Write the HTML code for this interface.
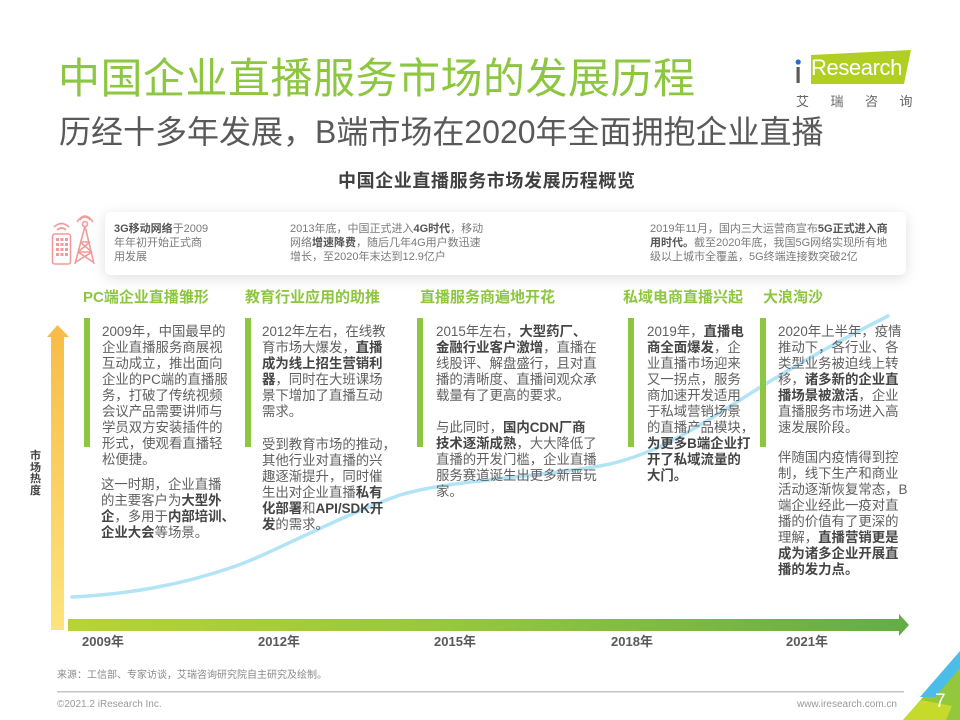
<!DOCTYPE html>
<html><head><meta charset="utf-8">
<style>
*{margin:0;padding:0;box-sizing:border-box}
body{width:960px;height:720px;background:#fff;position:relative;overflow:hidden;font-family:"Liberation Sans","Noto Sans CJK SC",sans-serif;color:#595959}
.a{position:absolute;white-space:nowrap}
.t1{left:58px;top:55px;font-size:42px;line-height:48px;color:#8dc63f;letter-spacing:0.5px}
.t2{left:59px;top:112px;font-size:32px;line-height:40px;color:#595959}
.t3{left:338px;top:170px;font-size:18px;line-height:22px;font-weight:bold;color:#404040;letter-spacing:0.6px}
.card{position:absolute;left:105px;top:212px;width:801px;height:63px;background:#fff;border-radius:6px;box-shadow:0 3px 14px rgba(0,0,0,0.13)}
.ct{position:absolute;font-size:11px;line-height:14px;color:#7a7a7a;white-space:nowrap}
.ct b{color:#555}
.hd{position:absolute;font-size:15px;line-height:18px;font-weight:bold;color:#8dc63f;white-space:nowrap}
.p{position:absolute;font-size:13.4px;line-height:16px;color:#606060;white-space:nowrap}
.p b{color:#454545}
.yr{position:absolute;font-size:13px;line-height:16px;font-weight:bold;color:#595959;white-space:nowrap;transform:translateX(-50%)}
.vl{position:absolute;left:30px;top:451px;width:13px;font-size:11px;line-height:11.5px;font-weight:bold;color:#404040;white-space:normal;word-break:break-all}
</style></head><body>

<svg width="960" height="720" style="position:absolute;left:0;top:0" xmlns="http://www.w3.org/2000/svg">
<defs>
<linearGradient id="yg" x1="0" y1="0" x2="0" y2="1"><stop offset="0" stop-color="#f8bd48"/><stop offset="1" stop-color="#fde47c"/></linearGradient>
<linearGradient id="gg" x1="0" y1="0" x2="1" y2="0"><stop offset="0" stop-color="#b7d432"/><stop offset="0.45" stop-color="#97c83b"/><stop offset="1" stop-color="#64ad46"/></linearGradient>
</defs>
<!-- logo -->
<polygon points="811,55 911,50 904,84 811,84" fill="#b1cf23"/>
<rect x="796.5" y="67" width="3.2" height="16" fill="#5a5a5a"/>
<circle cx="798.2" cy="62" r="2.6" fill="#2a6fbf"/>
<!-- curve -->
<path d="M72,597 C130,594 180,585 230,568 C270,555 330,520 400,495 C450,480 530,478 600,466 C650,457 690,432 740,400 C790,368 840,340 888,316" fill="none" stroke="#b2e4f6" stroke-width="3.5" stroke-linecap="round"/>
<!-- yellow arrow -->
<rect x="51" y="336" width="13" height="294" fill="url(#yg)"/>
<polygon points="47,337 57.5,325 69,337" fill="#f8bd48"/>
<!-- timeline -->
<rect x="68" y="619" width="832" height="12" fill="url(#gg)"/>
<polygon points="899,614 909,625 899,636" fill="#64ad46"/>
<!-- green bars -->
<rect x="84" y="318" width="6" height="129" fill="#8dc63f"/>
<rect x="245" y="318" width="6" height="129" fill="#8dc63f"/>
<rect x="417" y="318" width="6" height="129" fill="#8dc63f"/>
<rect x="628" y="318" width="6" height="129" fill="#8dc63f"/>
<rect x="760" y="318" width="6" height="129" fill="#8dc63f"/>
<!-- footer line -->
<rect x="57" y="691" width="847" height="1.5" fill="#c4c4c4"/>
<!-- corner -->
<polygon points="903,720 960,655 960,720" fill="#93c83c"/>
<polygon points="903,720 921,700 952,706 946,720" fill="#c6da2c"/>
<polygon points="920,697 960,651 960,668 935,697" fill="#4bbde8"/>
</svg>

<div class="card"></div>
<svg width="60" height="60" style="position:absolute;left:45px;top:212px" xmlns="http://www.w3.org/2000/svg" fill="none" stroke="#f29a9a" stroke-width="1.6">
<rect x="7.5" y="22" width="18" height="30" rx="2.5"/>
<g fill="#f29a9a" stroke="none">
<rect x="11" y="26" width="3" height="3"/><rect x="15.5" y="26" width="3" height="3"/><rect x="20" y="26" width="3" height="3"/>
<rect x="11" y="31" width="3" height="3"/><rect x="15.5" y="31" width="3" height="3"/><rect x="20" y="31" width="3" height="3"/>
<rect x="11" y="36" width="3" height="3"/><rect x="15.5" y="36" width="3" height="3"/><rect x="20" y="36" width="3" height="3"/>
<rect x="11" y="41" width="3" height="3"/><rect x="15.5" y="41" width="3" height="3"/><rect x="20" y="41" width="3" height="3"/>
</g>
<path d="M12,18 Q16.5,14 21,18"/><path d="M9,15 Q16.5,8 24,15"/>
<path d="M40,14 L30,52 M40,14 L49,52 M33,40 L47,40 M35,30 L45,30 M33,40 L45,30 M35,30 L47,40 M31,50 L47,40 M33,40 L48,50"/>
<circle cx="40" cy="12" r="2.5"/>
<path d="M35,8 Q40,2 45,8"/><path d="M32,10 Q40,-2 48,10"/>
</svg>

<div class="a t1">中国企业直播服务市场的发展历程</div>
<div class="a t2">历经十多年发展，B端市场在2020年全面拥抱企业直播</div>
<div class="a t3">中国企业直播服务市场发展历程概览</div>

<div class="a" style="left:811px;top:54px;font-size:22px;line-height:28px;color:#fff;letter-spacing:-0.4px">Research</div>
<div class="a" style="left:796px;top:94px;font-size:13px;line-height:16px;color:#666;letter-spacing:21.5px">艾瑞咨询</div>

<div class="ct" style="left:114px;top:222px"><b>3G移动网络</b>于2009<br>年年初开始正式商<br>用发展</div>
<div class="ct" style="left:290px;top:222px">2013年底，中国正式进入<b>4G时代</b>，移动<br>网络<b>增速降费</b>，随后几年4G用户数迅速<br>增长，至2020年末达到12.9亿户</div>
<div class="ct" style="left:650px;top:222px">2019年11月，国内三大运营商宣布<b>5G正式进入商</b><br><b>用时代。</b>截至2020年底，我国5G网络实现所有地<br>级以上城市全覆盖，5G终端连接数突破2亿</div>

<div class="hd" style="left:83px;top:289px">PC端企业直播雏形</div>
<div class="hd" style="left:245px;top:289px">教育行业应用的助推</div>
<div class="hd" style="left:420px;top:289px">直播服务商遍地开花</div>
<div class="hd" style="left:623px;top:289px">私域电商直播兴起</div>
<div class="hd" style="left:763px;top:289px">大浪淘沙</div>

<div class="p" style="left:102px;top:324px">2009年，中国最早的<br>企业直播服务商展视<br>互动成立，推出面向<br>企业的PC端的直播服<br>务，打破了传统视频<br>会议产品需要讲师与<br>学员双方安装插件的<br>形式，使观看直播轻<br>松便捷。</div>
<div class="p" style="left:101px;top:477px">这一时期，企业直播<br>的主要客户为<b>大型外</b><br><b>企</b>，多用于<b>内部培训、</b><br><b>企业大会</b>等场景。</div>

<div class="p" style="left:262px;top:324px">2012年左右，在线教<br>育市场大爆发，<b>直播</b><br><b>成为线上招生营销利</b><br><b>器</b>，同时在大班课场<br>景下增加了直播互动<br>需求。</div>
<div class="p" style="left:262px;top:437px">受到教育市场的推动，<br>其他行业对直播的兴<br>趣逐渐提升，同时催<br>生出对企业直播<b>私有</b><br><b>化部署</b>和<b>API/SDK开</b><br><b>发</b>的需求。</div>

<div class="p" style="left:436px;top:324px">2015年左右，<b>大型药厂、</b><br><b>金融行业客户激增</b>，直播在<br>线股评、解盘盛行，且对直<br>播的清晰度、直播间观众承<br>载量有了更高的要求。</div>
<div class="p" style="left:436px;top:420px">与此同时，<b>国内CDN厂商</b><br><b>技术逐渐成熟</b>，大大降低了<br>直播的开发门槛，企业直播<br>服务赛道诞生出更多新晋玩<br>家。</div>

<div class="p" style="left:647px;top:324px">2019年，<b>直播电</b><br><b>商全面爆发</b>，企<br>业直播市场迎来<br>又一拐点，服务<br>商加速开发适用<br>于私域营销场景<br>的直播产品模块，<br><b>为更多B端企业打</b><br><b>开了私域流量的</b><br><b>大门。</b></div>

<div class="p" style="left:778px;top:324px">2020年上半年，疫情<br>推动下，各行业、各<br>类型业务被迫线上转<br>移，<b>诸多新的企业直</b><br><b>播场景被激活</b>，企业<br>直播服务市场进入高<br>速发展阶段。</div>
<div class="p" style="left:778px;top:450px">伴随国内疫情得到控<br>制，线下生产和商业<br>活动逐渐恢复常态，B<br>端企业经此一疫对直<br>播的价值有了更深的<br>理解，<b>直播营销更是</b><br><b>成为诸多企业开展直</b><br><b>播的发力点。</b></div>

<div class="vl">市场热度</div>

<div class="yr" style="left:103px;top:634px">2009年</div>
<div class="yr" style="left:279px;top:634px">2012年</div>
<div class="yr" style="left:455px;top:634px">2015年</div>
<div class="yr" style="left:632px;top:634px">2018年</div>
<div class="yr" style="left:807px;top:634px">2021年</div>

<div class="a" style="left:57px;top:669px;font-size:10px;line-height:14px;color:#8a8a8a">来源：工信部、专家访谈，艾瑞咨询研究院自主研究及绘制。</div>
<div class="a" style="left:57px;top:698px;font-size:10px;line-height:14px;color:#9a9a9a">©2021.2 iResearch Inc.</div>
<div class="a" style="left:790px;top:698px;width:107px;text-align:right;font-size:10px;line-height:14px;color:#9a9a9a">www.iresearch.com.cn</div>
<div class="a" style="left:935px;top:691px;font-size:19px;line-height:22px;color:#fff">7</div>
</body></html>
